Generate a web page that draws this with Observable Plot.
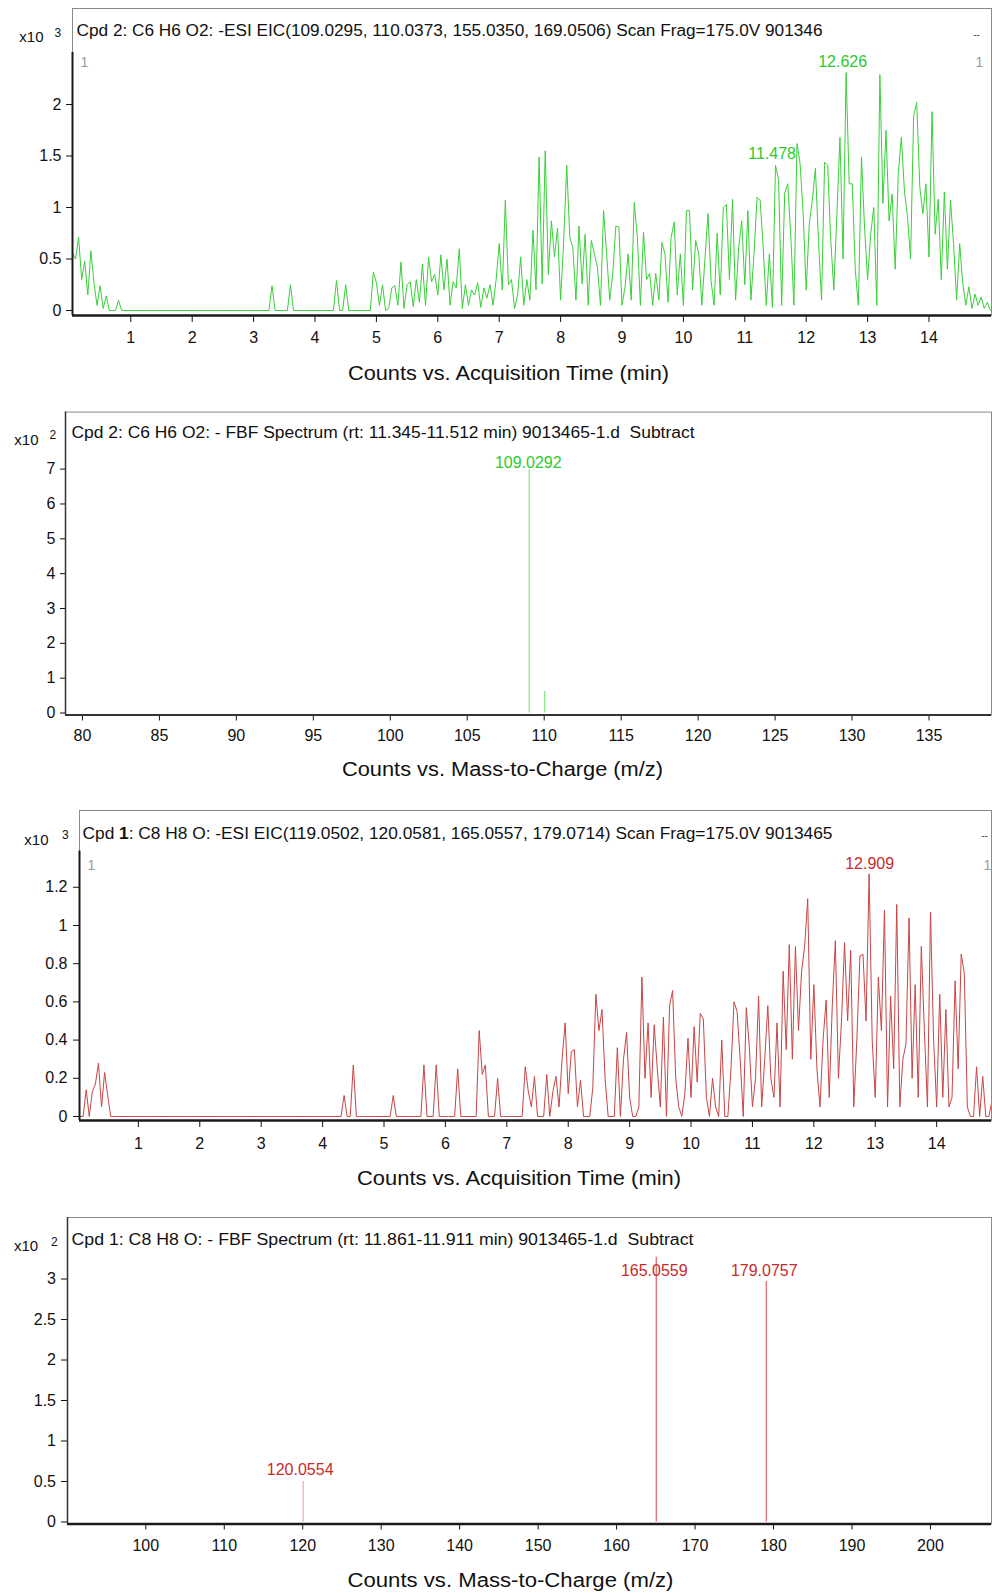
<!DOCTYPE html>
<html>
<head>
<meta charset="utf-8">
<script src="https://cdn.jsdelivr.net/npm/d3@7"></script>
<script src="https://cdn.jsdelivr.net/npm/@observablehq/plot@0.6"></script>
<style>
  html, body { margin: 0; padding: 0; background: #fff; }
  body { width: 992px; height: 1593px; position: relative; overflow: hidden; }
  .panel { position: absolute; left: 0; }
  svg text { white-space: pre; }
</style>
</head>
<body>
<div id="p1" class="panel" style="top:0px"></div>
<div id="p2" class="panel" style="top:400px"></div>
<div id="p3" class="panel" style="top:800px"></div>
<div id="p4" class="panel" style="top:1200px"></div>
<script>
// ---------------- DATA ----------------
// EIC traces: counts (x10^3) sampled every 0.05 min starting at 0.05 min
const eicStart = 0.05;
const eicStep = 0.05;

const cpd2EicCounts = [
  0.56,0.50,0.71,0.30,0.48,0.15,0.58,0.27,0.05,0.24,0.02,0.14,0,0,0,0.10,0,0,0,0,
  0,0,0,0,0,0,0,0,0,0,0,0,0,0,0,0,0,0,0,0,
  0,0,0,0,0,0,0,0,0,0,0,0,0,0,0,0,0,0,0,0,
  0,0,0,0,0,0.24,0,0,0,0,0,0.25,0,0,0,0,0,0,0,0,
  0,0,0,0,0,0,0.29,0,0,0.25,0,0,0,0,0,0,0,0,0.37,0.27,
  0.05,0.25,0,0.02,0.22,0.24,0.05,0.47,0.02,0.25,0.28,0.04,0.30,0.08,0.45,0.05,0.52,0.28,0.35,0.15,
  0.54,0.20,0.50,0.05,0.28,0.22,0.60,0.02,0.25,0.05,0.20,0.15,0.27,0.03,0.22,0.12,0.25,0.05,0.30,0.65,
  0.20,1.07,0.25,0.30,0.02,0.15,0.52,0.05,0.30,0.10,0.78,0.20,1.49,0.26,1.55,0.35,0.87,0.52,0.80,0.10,
  0.67,1.41,0.71,0.61,0.10,0.82,0.26,0.74,0.05,0.68,0.55,0.42,0.05,0.97,0.55,0.10,0.36,0.82,0.81,0.05,
  0.23,0.55,0.10,1.05,0.71,0.05,0.76,0.30,0.36,0.05,0.36,0.10,0.66,0.55,0.08,0.71,0.86,0.15,0.55,0.05,
  0.97,0.97,0.20,0.68,0.55,0.05,0.49,0.94,0.29,0.05,0.75,0.15,1.00,1.03,0.30,1.08,0.10,0.61,0.87,0.25,
  0.97,0.10,0.55,1.10,1.07,0.61,0.05,0.55,0.03,1.41,1.27,0.05,1.14,1.23,0.71,0.05,1.62,1.43,0.95,0.20,
  0.84,1.07,1.38,0.68,0.10,1.44,1.41,0.68,0.20,0.94,1.68,0.50,2.31,1.23,1.23,0.39,0.05,1.49,0.81,0.30,
  0.74,1.00,0.05,2.29,1.04,1.75,0.87,1.13,0.40,1.33,1.68,1.16,0.91,0.50,1.89,2.02,1.20,0.94,1.23,0.52,
  1.93,0.74,1.08,0.30,1.15,0.40,1.07,0.65,0.10,0.65,0.26,0.05,0.23,0.02,0.16,0.05,0.13,0.02,0.08,0
];

const cpd1EicCounts = [
  0,0,0.14,0,0.13,0.17,0.28,0.05,0.23,0.11,0,0,0,0,0,0,0,0,0,0,
  0,0,0,0,0,0,0,0,0,0,0,0,0,0,0,0,0,0,0,0,
  0,0,0,0,0,0,0,0,0,0,0,0,0,0,0,0,0,0,0,0,
  0,0,0,0,0,0,0,0,0,0,0,0,0,0,0,0,0,0,0,0,
  0,0,0,0,0,0,0.11,0,0,0.27,0,0,0,0,0,0,0,0,0,0,
  0,0,0.11,0,0,0,0,0,0,0,0,0,0.27,0,0,0,0.27,0,0,0,
  0,0,0,0.25,0,0,0,0,0,0,0.45,0.22,0.27,0,0,0,0.20,0,0,0,
  0,0,0,0,0,0.26,0.13,0.05,0.21,0,0,0,0.22,0,0.13,0.21,0.05,0.30,0.49,0.12,
  0.34,0.35,0.05,0.19,0,0,0,0.15,0.64,0.45,0.56,0.20,0,0,0,0.36,0,0.30,0.44,0.10,
  0,0,0.05,0.73,0.20,0.49,0.10,0.48,0.25,0.05,0.52,0,0.58,0.66,0.20,0.05,0,0.12,0.41,0.10,
  0.47,0.18,0.54,0.51,0.10,0,0.20,0.05,0,0.40,0,0,0.25,0.60,0.55,0.30,0,0.57,0.36,0.05,
  0.20,0.63,0.05,0.30,0.58,0.20,0.10,0.49,0.05,0.76,0.35,0.90,0.30,0.89,0.45,0.76,0.89,1.14,0.30,0.69,
  0.25,0.05,0.40,0.61,0.10,0.58,0.92,0.20,0.50,0.91,0.50,0.87,0.05,0.40,0.84,0.85,0.50,1.27,0.40,0.10,
  0.73,0.45,1.08,0.05,0.63,0.25,1.11,0.05,0.30,0.38,1.04,0.20,0.69,0.10,0.89,0.45,0.05,1.07,0.40,0.05,
  0.64,0.10,0.56,0.05,0.10,0.71,0.25,0.85,0.75,0.05,0,0,0.26,0,0.21,0,0,0.08,0,0
];

// labelled EIC peaks
const cpd2PeakTimes = [12.626, 11.478];
const cpd2PeakCounts = [2.31, 1.41];
const cpd1PeakTimes = [12.909];
const cpd1PeakCounts = [1.27];

// FBF spectra (counts x10^2)
const cpd2SpecMz = [109.0292, 110.0330];
const cpd2SpecCounts = [7.0, 0.62];
const cpd2SpecLabels = ["109.0292"];
const cpd1SpecMz = [120.0554, 165.0559, 179.0757];
const cpd1SpecCounts = [0.50, 3.27, 2.97];

// ticks
const eicTimeTicks = [1,2,3,4,5,6,7,8,9,10,11,12,13,14];
const cpd2EicYTicks = [0, 0.5, 1, 1.5, 2];
const cpd1EicYTicks = [0, 0.2, 0.4, 0.6, 0.8, 1, 1.2];
const cpd2SpecXTicks = [80,85,90,95,100,105,110,115,120,125,130,135];
const cpd2SpecYTicks = [0,1,2,3,4,5,6,7];
const cpd1SpecXTicks = [100,110,120,130,140,150,160,170,180,190,200];
const cpd1SpecYTicks = [0,0.5,1,1.5,2,2.5,3];

// text
const title1 = "Cpd 2: C6 H6 O2: -ESI EIC(109.0295, 110.0373, 155.0350, 169.0506) Scan Frag=175.0V 901346";
const title2 = "Cpd 2: C6 H6 O2: - FBF Spectrum (rt: 11.345-11.512 min) 9013465-1.d  Subtract";
const title3 = "Cpd 1: C8 H8 O: -ESI EIC(119.0502, 120.0581, 165.0557, 179.0714) Scan Frag=175.0V 9013465";
const title4 = "Cpd 1: C8 H8 O: - FBF Spectrum (rt: 11.861-11.911 min) 9013465-1.d  Subtract";
const xTitleTime = "Counts vs. Acquisition Time (min)";
const xTitleMass = "Counts vs. Mass-to-Charge (m/z)";

// ---------------- STYLE ----------------
const FONT = "'Liberation Sans', Arial, Helvetica, sans-serif";
const GREEN_LINE = "#38cf38";
const GREEN_TEXT = "#2ec92e";
const GREEN_SPEC = "#86e486";
const RED_LINE = "#c84545";
const RED_TEXT = "#c92a2a";
const RED_SPEC = "#e46060";
const AXIS = "#1a1a1a";
const FRAME = "#8a8a8a";

const eic2 = cpd2EicCounts.map((v, i) => ({t: eicStart + i * eicStep, v}));
const eic1 = cpd1EicCounts.map((v, i) => ({t: eicStart + i * eicStep, v}));
const peaks2 = cpd2PeakTimes.map((t, i) => ({t, v: cpd2PeakCounts[i], label: t.toFixed(3)}));
const peaks1 = cpd1PeakTimes.map((t, i) => ({t, v: cpd1PeakCounts[i], label: t.toFixed(3)}));
const spec2 = cpd2SpecMz.map((mz, i) => ({mz, v: cpd2SpecCounts[i]}));
const spec1 = cpd1SpecMz.map((mz, i) => ({mz, v: cpd1SpecCounts[i], label: mz.toFixed(4)}));

const note = (str, o) => Plot.text([str], {text: d => d, frameAnchor: "top-left", lineAnchor: "middle", textAnchor: "start", fill: "#111", ...o});

function fitText(svg, str, width) {
  for (const t of svg.querySelectorAll("text")) {
    if (t.textContent === str) {
      t.setAttribute("textLength", width);
      t.setAttribute("lengthAdjust", "spacingAndGlyphs");
    }
  }
}
function boldCpd(svg, str) {
  for (const t of svg.querySelectorAll("text")) {
    if (t.textContent === str) {
      t.textContent = "";
      t.append(document.createTextNode(str.slice(0, 4)));
      const b = document.createElementNS("http://www.w3.org/2000/svg", "tspan");
      b.setAttribute("font-weight", "bold");
      b.textContent = str.slice(4, 5);
      t.append(b);
      t.append(document.createTextNode(str.slice(5)));
    }
  }
}
const baseStyle = {fontFamily: FONT, fontSize: "16px", color: "#111", background: "white"};

// ---------------- PANEL 1: Cpd 2 EIC ----------------
{
  const xd = [0.0505, 15.018], yd = [-0.0485, 2.932];
  const p = Plot.plot({
    width: 992, height: 400,
    marginTop: 8, marginBottom: 85, marginLeft: 72, marginRight: 1,
    style: baseStyle,
    x: {domain: xd, ticks: eicTimeTicks, tickFormat: d => String(d), tickSize: 7, tickPadding: 9, label: null},
    y: {domain: yd, ticks: cpd2EicYTicks, tickFormat: d => String(d), tickSize: 6, tickPadding: 5, label: null},
    marks: [
      Plot.frame({stroke: FRAME}),
      Plot.line(eic2, {x: "t", y: "v", stroke: GREEN_LINE, strokeWidth: 1, clip: true}),
      Plot.ruleY([yd[0]], {stroke: AXIS, strokeWidth: 2.5}),
      Plot.ruleX([xd[0]], {y1: yd[0], y2: 2.505, stroke: AXIS, strokeWidth: 2}),
      Plot.text(peaks2, {x: "t", y: "v", text: "label", dy: -11, dx: -2, fill: GREEN_TEXT, fontSize: 16, lineAnchor: "middle"}),
      note(title1, {dx: 4, dy: 22, fontSize: 16}),
      note("x10", {dx: -29, dy: 29, textAnchor: "end", fontSize: 15}),
      note("3", {dx: -18, dy: 25, fontSize: 12}),
      note("1", {dx: 8, dy: 54, fontSize: 14, fill: "#999"}),
      note("1", {frameAnchor: "top-right", dx: -12, dy: 54, textAnchor: "middle", fontSize: 14, fill: "#999"}),
      note("--", {frameAnchor: "top-right", dx: -15, dy: 26, textAnchor: "middle", fontSize: 10, fill: "#444"}),
      Plot.text([xTitleTime], {text: d => d, frameAnchor: "bottom", dx: -23.5, dy: 58, lineAnchor: "middle", fontSize: 20, fill: "#111"})
    ]
  });
  fitText(p, title1, 746);
  fitText(p, xTitleTime, 321);
  document.getElementById("p1").append(p);
}

// ---------------- PANEL 2: Cpd 2 spectrum ----------------
{
  const xd = [78.9, 139.06], yd = [-0.057, 8.637];
  const p = Plot.plot({
    width: 992, height: 400,
    marginTop: 11.6, marginBottom: 85.5, marginLeft: 65, marginRight: 1,
    style: baseStyle,
    x: {domain: xd, ticks: cpd2SpecXTicks, tickFormat: d => String(d), tickSize: 6, tickPadding: 9, label: null},
    y: {domain: yd, ticks: cpd2SpecYTicks, tickFormat: d => String(d), tickSize: 5, tickPadding: 5, label: null},
    marks: [
      Plot.frame({stroke: FRAME}),
      Plot.ruleX(spec2, {x: "mz", y1: 0, y2: "v", stroke: GREEN_SPEC, strokeWidth: 1.2}),
      Plot.ruleY([yd[0]], {stroke: "#333", strokeWidth: 2}),
      Plot.ruleX([xd[0]], {stroke: "#333", strokeWidth: 1.5}),
      Plot.text(spec2.slice(0, cpd2SpecLabels.length), {x: "mz", y: "v", text: (d, i) => cpd2SpecLabels[i], dy: -6, dx: -1, fill: GREEN_TEXT, fontSize: 16, lineAnchor: "middle"}),
      note(title2, {dx: 6, dy: 20.5, fontSize: 16}),
      note("x10", {dx: -27, dy: 28.4, textAnchor: "end", fontSize: 15}),
      note("2", {dx: -16, dy: 23.4, fontSize: 12}),
      Plot.text([xTitleMass], {text: d => d, frameAnchor: "bottom", dx: -26, dy: 55, lineAnchor: "middle", fontSize: 20, fill: "#111"})
    ]
  });
  fitText(p, title2, 623);
  fitText(p, xTitleMass, 321);
  document.getElementById("p2").append(p);
}

// ---------------- PANEL 3: Cpd 1 EIC ----------------
{
  const xd = [0.041, 14.893], yd = [-0.021, 1.602];
  const p = Plot.plot({
    width: 992, height: 400,
    marginTop: 10, marginBottom: 80, marginLeft: 79, marginRight: 1,
    style: baseStyle,
    x: {domain: xd, ticks: eicTimeTicks, tickFormat: d => String(d), tickSize: 7, tickPadding: 10, label: null},
    y: {domain: yd, ticks: cpd1EicYTicks, tickFormat: d => String(d), tickSize: 6, tickPadding: 6, label: null},
    marks: [
      Plot.frame({stroke: FRAME}),
      Plot.line(eic1, {x: "t", y: "v", stroke: RED_LINE, strokeWidth: 1, clip: true}),
      Plot.ruleY([yd[0]], {stroke: AXIS, strokeWidth: 2.5}),
      Plot.ruleX([xd[0]], {y1: yd[0], y2: 1.39, stroke: AXIS, strokeWidth: 2}),
      Plot.text(peaks1, {x: "t", y: "v", text: "label", dy: -10.5, fill: RED_TEXT, fontSize: 16, lineAnchor: "middle"}),
      note(title3, {dx: 3, dy: 23, fontSize: 16}),
      note("x10", {dx: -31, dy: 30, textAnchor: "end", fontSize: 15}),
      note("3", {dx: -17.5, dy: 25, fontSize: 12}),
      note("1", {dx: 8, dy: 55, fontSize: 14, fill: "#999"}),
      note("1", {frameAnchor: "top-right", dx: -4, dy: 55, textAnchor: "middle", fontSize: 14, fill: "#999"}),
      note("--", {frameAnchor: "top-right", dx: -7, dy: 25.5, textAnchor: "middle", fontSize: 10, fill: "#444"}),
      Plot.text([xTitleTime], {text: d => d, frameAnchor: "bottom", dx: -16.5, dy: 58, lineAnchor: "middle", fontSize: 20, fill: "#111"})
    ]
  });
  fitText(p, title3, 750);
  fitText(p, xTitleTime, 324);
  boldCpd(p, title3);
  document.getElementById("p3").append(p);
}

// ---------------- PANEL 4: Cpd 1 spectrum ----------------
{
  const xd = [90.02, 207.78], yd = [-0.025, 3.76];
  const p = Plot.plot({
    width: 992, height: 393,
    marginTop: 17, marginBottom: 69.5, marginLeft: 67, marginRight: 1,
    style: baseStyle,
    x: {domain: xd, ticks: cpd1SpecXTicks, tickFormat: d => String(d), tickSize: 6, tickPadding: 10, label: null},
    y: {domain: yd, ticks: cpd1SpecYTicks, tickFormat: d => String(d), tickSize: 6, tickPadding: 5.5, label: null},
    marks: [
      Plot.frame({stroke: FRAME}),
      Plot.ruleX(spec1, {x: "mz", y1: 0, y2: "v", stroke: (d, i) => i === 0 ? "#f0a8a8" : RED_SPEC, strokeWidth: 1.2}),
      Plot.ruleY([yd[0]], {stroke: AXIS, strokeWidth: 2.5}),
      Plot.ruleX([xd[0]], {stroke: "#333", strokeWidth: 1.5}),
      Plot.text(spec1.slice(0, 1), {x: "mz", y: "v", text: "label", dy: -12, dx: -3, fill: RED_TEXT, fontSize: 16, lineAnchor: "middle"}),
      Plot.text(spec1.slice(1, 2), {x: "mz", y: "v", text: "label", dy: 13.4, dx: -2, fill: RED_TEXT, fontSize: 16, lineAnchor: "middle"}),
      Plot.text(spec1.slice(2, 3), {x: "mz", y: "v", text: "label", dy: -11, dx: -2, fill: RED_TEXT, fontSize: 16, lineAnchor: "middle"}),
      note(title4, {dx: 4, dy: 22, fontSize: 16}),
      note("x10", {dx: -29.4, dy: 29, textAnchor: "end", fontSize: 15}),
      note("2", {dx: -16.5, dy: 25, fontSize: 12}),
      Plot.text([xTitleMass], {text: d => d, frameAnchor: "bottom", dx: -19, dy: 57, lineAnchor: "middle", fontSize: 20, fill: "#111"})
    ]
  });
  fitText(p, title4, 622);
  fitText(p, xTitleMass, 326);
  document.getElementById("p4").append(p);
}
</script>
</body>
</html>
